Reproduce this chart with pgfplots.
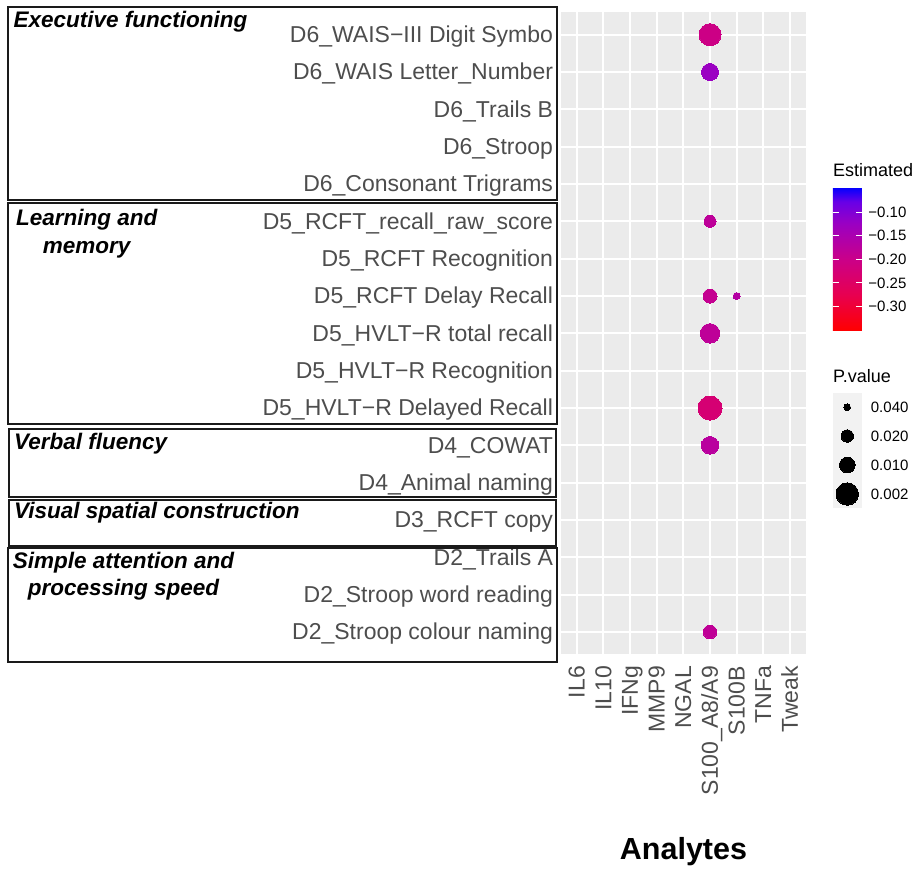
\documentclass[border=0pt]{standalone}
\usepackage{fontspec}
\setmainfont{Liberation Sans}
\usepackage{pgfplots}
\usepackage{pgfplotstable}
\pgfplotsset{compat=1.18}
\definecolor{ggbg}{HTML}{EBEBEB}
\definecolor{ggkey}{HTML}{F2F2F2}
\definecolor{gray30}{HTML}{4D4D4D}
\definecolor{boxline}{HTML}{1A1A1A}

% x = analyte index, y = row (17 = top), est = Estimated, r = point radius (pt, from P.value)
\pgfplotstableread{
x y est r
6 17 -0.205 11.0
6 16 -0.125 8.5
6 12 -0.178 6.0
6 10 -0.190 7.0
7 10 -0.165 3.5
6 9 -0.180 9.7
6 7 -0.228 12.0
6 6 -0.172 8.8
6 1 -0.182 6.8
}\dotdata

\pgfplotstableread{
x y r
0.5 460.7 3.3
0.5 432.0 6.2
0.5 403.0 7.8
0.5 374.0 11.2
}\sizedata

\begin{document}
\begin{tikzpicture}
\path[use as bounding box] (0,0) rectangle (916pt,868pt);

\begin{axis}[
  at={(560.7pt,213.6pt)}, anchor=south west,
  scale only axis, width=245.3pt, height=642.1pt,
  xmin=0.4, xmax=9.6, ymin=0.4, ymax=17.6,
  axis background/.style={fill=ggbg},
  axis line style={draw=none},
  xtick={1,...,9}, ytick={1,...,17},
  xticklabels={IL6,IL10,IFNg,MMP9,NGAL,S100\_A8/A9,S100B,TNFa,Tweak},
  yticklabels={
    D2\_Stroop colour naming,
    D2\_Stroop word reading,
    D2\_Trails A,
    D3\_RCFT copy,
    D4\_Animal naming,
    D4\_COWAT,
    D5\_HVLT−R Delayed Recall,
    D5\_HVLT−R Recognition,
    D5\_HVLT−R total recall,
    D5\_RCFT Delay Recall,
    D5\_RCFT Recognition,
    D5\_RCFT\_recall\_raw\_score,
    D6\_Consonant Trigrams,
    D6\_Stroop,
    D6\_Trails B,
    D6\_WAIS Letter\_Number,
    D6\_WAIS−III Digit Symbo},
  major tick length=0pt, tick style={draw=none},
  grid=major, major grid style={white, line width=1.8pt},
  xticklabel style={font=\fontsize{23}{27}\selectfont, text=gray30, inner sep=0pt,
     xshift=7.9pt, yshift=-11.5pt, rotate=90, anchor=base east},
  yticklabel style={font=\fontsize{23}{27}\selectfont, text=gray30, inner sep=0pt,
     xshift=-7.5pt, yshift=-7.9pt, anchor=base east},
  colormap={ggrb}{rgb255(0pt)=(255,0,0) rgb255(25pt)=(232,0,80) rgb255(50pt)=(202,0,137) rgb255(75pt)=(154,0,195) rgb255(90pt)=(104,0,231) rgb255(100pt)=(0,0,255)},
  point meta min=-0.3513, point meta max=-0.0472,
  colorbar,
  colorbar/width=29pt,
  colorbar style={
    at={(parent axis.north east)}, anchor=north west,
    xshift=18.4pt, yshift=-175pt,
    scale only axis, width=29pt, height=143.4pt,
    ytick={-0.30,-0.25,-0.20,-0.15,-0.10},
    yticklabels={−0.30,−0.25,−0.20,−0.15,−0.10},
    yticklabel pos=right, ytick pos=both,
    tick align=inside, major tick length=5.8pt,
    ytick style={draw=white, line width=0.9pt},
    axis line style={draw=none},
    yticklabel style={font=\fontsize{15}{18}\selectfont, text=black, inner sep=0pt,
       anchor=base west, xshift=6.3pt, yshift=-5.2pt},
  },
]
\addplot[scatter, only marks, mark=*,
  point meta=\thisrow{est},
  visualization depends on={\thisrow{r}\as\rad},
  scatter/use mapped color={draw=mapped color, fill=mapped color},
  scatter/@pre marker code/.append style={/tikz/mark size=\rad},
  mark options={line width=0pt}]
  table[x=x, y=y] {\dotdata};
\end{axis}

% size legend
\begin{axis}[
  at={(832.7pt,359.7pt)}, anchor=south west,
  scale only axis, width=29pt, height=115pt,
  xmin=0, xmax=1, ymin=359.7, ymax=474.7,
  axis background/.style={fill=ggkey},
  axis line style={draw=none},
  xtick=\empty,
  ytick={374,403,432,460.7},
  yticklabels={0.002,0.010,0.020,0.040},
  yticklabel pos=right,
  major tick length=0pt, tick style={draw=none},
  yticklabel style={font=\fontsize{15}{18}\selectfont, text=black, inner sep=0pt,
     anchor=base west, xshift=9pt, yshift=-5.2pt},
  clip=false,
]
\addplot[scatter, only marks, mark=*,
  visualization depends on={\thisrow{r}\as\rad},
  scatter/use mapped color={draw=black, fill=black},
  scatter/@pre marker code/.append style={/tikz/mark size=\rad},
  mark options={line width=0pt}]
  table[x=x, y=y] {\sizedata};
\end{axis}

% legend titles
\node[anchor=base west, inner sep=0pt, font=\fontsize{18}{22}\selectfont] at (833pt,691.3pt) {Estimated};
\node[anchor=base west, inner sep=0pt, font=\fontsize{18}{22}\selectfont] at (833pt,485.3pt) {P.value};

% x axis title
\node[anchor=base, inner sep=0pt, font=\fontsize{30.5}{34}\selectfont\bfseries] at (683.5pt,9pt) {Analytes};

% group boxes
\begin{scope}[draw=boxline, line width=1.5pt]
\draw (8pt,861pt) rectangle (557pt,668pt);
\draw (8pt,665pt) rectangle (557pt,444pt);
\draw (9pt,439pt) rectangle (556pt,371pt);
\draw (9pt,368pt) rectangle (556pt,322pt);
\draw (8pt,320pt) rectangle (557pt,206pt);
\end{scope}

% group labels
\begin{scope}[every node/.style={inner sep=0pt, font=\fontsize{22.5}{27}\selectfont\bfseries\itshape}]
\node[anchor=base west] at (13.3pt,840.7pt) {Executive functioning};
\node[anchor=base] at (86.7pt,642.3pt) {Learning and};
\node[anchor=base] at (86.7pt,614.7pt) {memory};
\node[anchor=base west] at (14pt,418pt) {Verbal fluency};
\node[anchor=base west] at (14pt,349.7pt) {Visual spatial construction};
\node[anchor=base] at (123.5pt,299.7pt) {Simple attention and};
\node[anchor=base] at (123.5pt,272pt) {processing speed};
\end{scope}
\end{tikzpicture}
\end{document}
